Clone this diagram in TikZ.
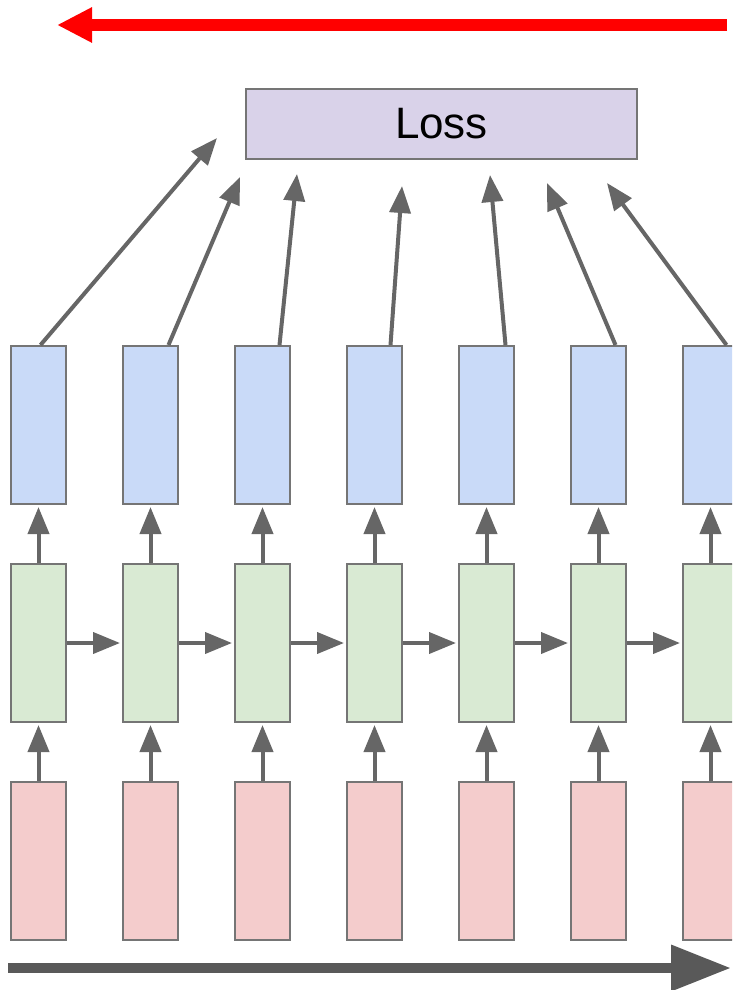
\documentclass[tikz,border=0pt]{standalone}
\usepackage{fontspec}
\setmainfont{Liberation Sans}
\usetikzlibrary{arrows.meta,calc}
\definecolor{outcol}{HTML}{C9DAF8}
\definecolor{hidcol}{HTML}{D9EAD3}
\definecolor{incol}{HTML}{F4CCCC}
\definecolor{losscol}{HTML}{D9D2E9}
\definecolor{edgegray}{HTML}{757575}
\definecolor{arrowgray}{HTML}{666666}
\definecolor{timegray}{HTML}{595959}
\tikzset{
  cell/.style={draw=edgegray, line width=2pt, minimum width=55pt, minimum height=158pt,
    inner sep=0pt, anchor=north west},
  outcell/.style={cell, fill=outcol},
  hidcell/.style={cell, fill=hidcol},
  incell/.style={cell, fill=incol},
  flow/.style={draw=arrowgray, line width=4pt,
    -{Triangle[length=27pt,width=21pt]}},
}
\begin{document}
\begin{tikzpicture}[x=1pt,y=-1pt]
  \useasboundingbox (0,0) rectangle (732,990);
  \clip (0,0) rectangle (732,990);

  % backward pass direction
  \coordinate (bpstart) at (727,25);
  \coordinate (bpend) at (57,25);
  \draw[red, line width=12pt, -{Triangle[length=35pt,width=33pt]}] (bpstart) -- (bpend);

  % loss box
  \node[draw=edgegray, line width=2pt, fill=losscol, minimum width=391pt,
        minimum height=70pt, inner sep=0pt, anchor=north west]
        (loss) at (245,88) {\fontsize{44}{50}\selectfont Loss};

  % unrolled cells
  \foreach \i in {1,...,7} {
    \pgfmathsetmacro{\xx}{10+112*(\i-1)}
    \node[outcell] (o\i) at (\xx,345) {};
    \node[hidcell] (h\i) at (\xx,563) {};
    \node[incell]  (x\i) at (\xx,781) {};
  }

  % vertical and recurrent connections
  \foreach \i in {1,...,7} {
    \draw[flow, shorten >=2pt] (x\i.north) -- (h\i.south);
    \draw[flow, shorten >=2pt] (h\i.north) -- (o\i.south);
  }
  \foreach \i [evaluate=\i as \j using int(\i+1)] in {1,...,6} {
    \draw[flow, shorten >=2pt] (h\i.east) -- (h\j.west);
  }

  % outputs feeding the loss
  \coordinate (t1) at (217,138);
  \coordinate (t2) at (240,177);
  \coordinate (t3) at (297,174);
  \coordinate (t4) at (402,186);
  \coordinate (t5) at (490,175);
  \coordinate (t6) at (547,183);
  \coordinate (t7) at (607,183);
  \draw[flow] ($(o1.north)+(2,0)$) -- (t1);
  \draw[flow] ($(o2.north)+(18,0)$) -- (t2);
  \draw[flow] ($(o3.north)+(17,0)$) -- (t3);
  \draw[flow] ($(o4.north)+(16,0)$) -- (t4);
  \draw[flow] ($(o5.north)+(19,0)$) -- (t5);
  \draw[flow] ($(o6.north)+(17,0)$) -- (t6);
  \draw[flow] ($(o7.north)+(16,0)$) -- (t7);

  % forward time direction
  \coordinate (fwstart) at (8,968);
  \coordinate (fwend) at (731,968);
  \draw[timegray, line width=10pt, -{Triangle[length=60pt,width=44pt]}] (fwstart) -- (fwend);
\end{tikzpicture}
\end{document}
